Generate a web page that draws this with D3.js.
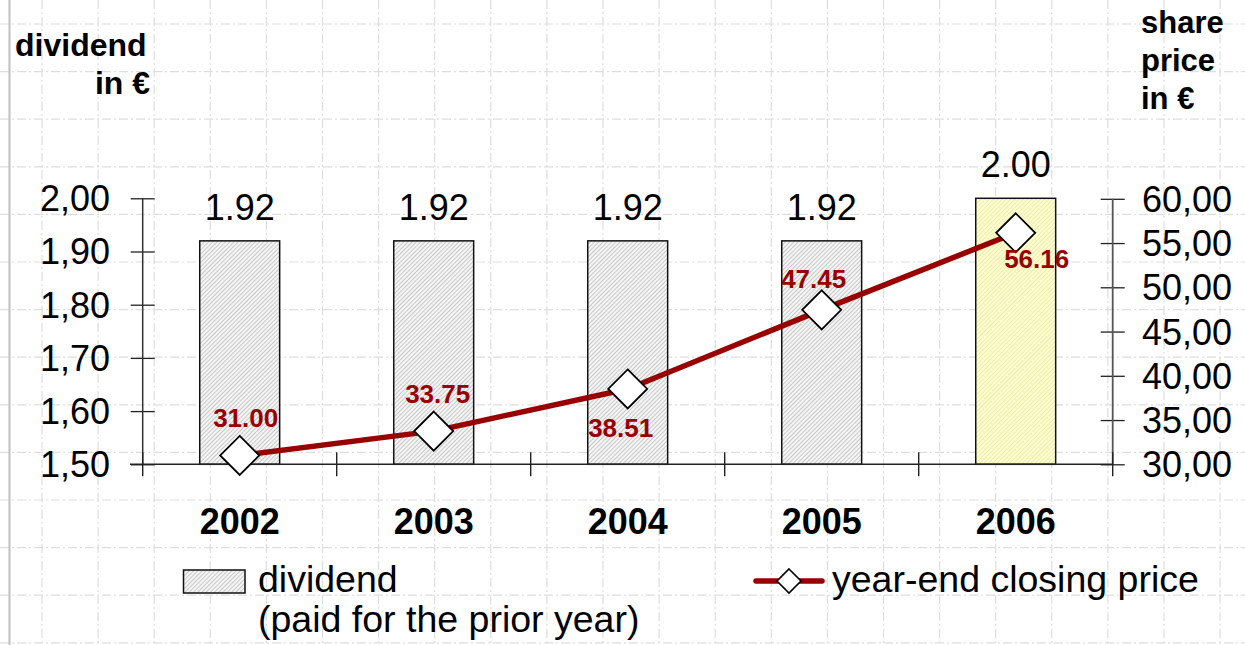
<!DOCTYPE html>
<html>
<head>
<meta charset="utf-8">
<script src="https://cdn.jsdelivr.net/npm/d3@7"></script>
<style>
  html, body { margin: 0; padding: 0; background: #ffffff; }
  svg { display: block; font-family: "Liberation Sans", Arial, sans-serif; }
</style>
</head>
<body>
<svg id="chart" width="1245" height="645"></svg>
<script>
// ---- data ----
const years = ["2002", "2003", "2004", "2005", "2006"];
const dividends = [1.92, 1.92, 1.92, 1.92, 2.00];
const sharePrices = [31.00, 33.75, 38.51, 47.45, 56.16];
const leftTicks = [1.50, 1.60, 1.70, 1.80, 1.90, 2.00];
const rightTicks = [30, 35, 40, 45, 50, 55, 60];
const highlightYear = "2006";

// label offsets for the price labels (style/placement only)
const priceLabelOffsets = [[6, -28], [4, -28], [-7, 48], [-8, -22], [21, 35]];

const svg = d3.select("#chart");
const W = 1245, H = 645;

// ---- background page grid ----
const gridG = svg.append("g");
const vStart = 42, vStep = 56.1, hStart = 24, hStep = 47.6;
for (let x = vStart; x < W; x += vStep) {
  gridG.append("line").attr("x1", x).attr("x2", x).attr("y1", 0).attr("y2", H)
    .attr("stroke", "#dedede").attr("stroke-width", 1.2).attr("stroke-dasharray", "9,3,2,3");
}
for (let y = hStart; y < H; y += hStep) {
  gridG.append("line").attr("x1", 0).attr("x2", W).attr("y1", y).attr("y2", y)
    .attr("stroke", "#dedede").attr("stroke-width", 1.2).attr("stroke-dasharray", "9,3,2,3");
}
gridG.append("line").attr("x1", 9.5).attr("x2", 9.5).attr("y1", 0).attr("y2", H)
  .attr("stroke", "#c4c4c4").attr("stroke-width", 2.2);

// ---- patterns ----
const defs = svg.append("defs");
function hatch(id, bg, fg) {
  const p = defs.append("pattern").attr("id", id).attr("patternUnits", "userSpaceOnUse")
    .attr("width", 3).attr("height", 3).attr("patternTransform", "rotate(45)");
  p.append("rect").attr("width", 3).attr("height", 3).attr("fill", bg);
  p.append("line").attr("x1", 0.5).attr("x2", 0.5).attr("y1", 0).attr("y2", 3)
    .attr("stroke", fg).attr("stroke-width", 0.8);
}
hatch("hatchGray", "#f5f5f5", "#bdbdbd");
hatch("hatchYellow", "#ffffcc", "#e6e6ae");

// ---- scales ----
const x = d3.scaleBand().domain(years).range([142.7, 1112.7]).paddingInner(0.588).paddingOuter(0.294);
const yL = d3.scaleLinear().domain([1.5, 2.0]).range([464.3, 198.3]);
const yR = d3.scaleLinear().domain([30, 60]).range([464.3, 198.8]);
const step = x.step();
const fmtComma = d3.format(".2f");

// ---- bars ----
svg.append("g").selectAll("rect").data(years).join("rect")
  .attr("x", d => x(d))
  .attr("width", x.bandwidth())
  .attr("y", (d, i) => yL(dividends[i]))
  .attr("height", (d, i) => yL(1.5) - yL(dividends[i]))
  .attr("fill", d => d === highlightYear ? "url(#hatchYellow)" : "url(#hatchGray)")
  .attr("stroke", "#111").attr("stroke-width", 1.5);

// dividend value labels
svg.append("g").selectAll("text").data(years).join("text")
  .attr("x", d => x(d) + x.bandwidth() / 2)
  .attr("y", (d, i) => yL(dividends[i]) - 21)
  .attr("text-anchor", "middle")
  .attr("font-size", 36).attr("fill", "#000")
  .text((d, i) => fmtComma(dividends[i]));

// ---- axes ----
const axisColor = "#222";
const axL = svg.append("g").attr("transform", "translate(142.7,0)")
  .call(d3.axisLeft(yL).tickValues(leftTicks).tickSize(12).tickFormat(""));
axL.select(".domain").remove();
axL.selectAll(".tick line").attr("x1", -12).attr("x2", 12).attr("stroke", axisColor).attr("stroke-width", 1.3);
axL.append("line").attr("x1", 0).attr("x2", 0).attr("y1", yL(2.0)).attr("y2", yL(1.5))
  .attr("stroke", "#333").attr("stroke-width", 1.5);
svg.append("g").selectAll("text").data(leftTicks).join("text")
  .attr("x", 110).attr("y", d => yL(d))
  .attr("dy", "0.36em").attr("text-anchor", "end")
  .attr("font-size", 36).attr("fill", "#000")
  .text(d => fmtComma(d).replace(".", ","));

const axR = svg.append("g").attr("transform", "translate(1112.7,0)")
  .call(d3.axisRight(yR).tickValues(rightTicks).tickSize(12).tickFormat(""));
axR.select(".domain").remove();
axR.selectAll(".tick line").attr("x1", -12).attr("x2", 12).attr("stroke", axisColor).attr("stroke-width", 1.3);
axR.append("line").attr("x1", 0).attr("x2", 0).attr("y1", yR(60)).attr("y2", yR(30))
  .attr("stroke", "#555").attr("stroke-width", 1.8);
svg.append("g").selectAll("text").data(rightTicks).join("text")
  .attr("x", 1142).attr("y", d => yR(d))
  .attr("dy", "0.36em").attr("text-anchor", "start")
  .attr("font-size", 36).attr("fill", "#000")
  .text(d => fmtComma(d).replace(".", ","));

// x axis
const xAxisY = yL(1.5);
svg.append("line").attr("x1", 130).attr("x2", 1112.7).attr("y1", xAxisY).attr("y2", xAxisY)
  .attr("stroke", axisColor).attr("stroke-width", 1.4);
const boundaries = years.map(d => x(d) - x.paddingOuter() * step).concat([x.range()[1]]);
svg.append("g").selectAll("line").data(boundaries).join("line")
  .attr("x1", d => d).attr("x2", d => d)
  .attr("y1", xAxisY - 12).attr("y2", xAxisY + 12)
  .attr("stroke", axisColor).attr("stroke-width", 1.4);
svg.append("g").selectAll("text").data(years).join("text")
  .attr("x", d => x(d) + x.bandwidth() / 2)
  .attr("y", 534)
  .attr("text-anchor", "middle")
  .attr("font-size", 36).attr("font-weight", "bold").attr("fill", "#000")
  .text(d => d);

// ---- price line ----
const lineColor = "#990000";
const pts = years.map((d, i) => [x(d) + x.bandwidth() / 2, yR(sharePrices[i])]);
svg.append("path").attr("d", d3.line()(pts))
  .attr("fill", "none").attr("stroke", lineColor).attr("stroke-width", 5.5)
  .attr("stroke-linejoin", "round");

const diamond = r => `M0,${-r}L${r},0L0,${r}L${-r},0Z`;
svg.append("g").selectAll("path").data(pts).join("path")
  .attr("transform", d => `translate(${d[0]},${d[1]})`)
  .attr("d", diamond(19.5))
  .attr("fill", "#fff").attr("stroke", "#000").attr("stroke-width", 1.8);

svg.append("g").selectAll("text").data(pts).join("text")
  .attr("x", (d, i) => d[0] + priceLabelOffsets[i][0])
  .attr("y", (d, i) => d[1] + priceLabelOffsets[i][1])
  .attr("text-anchor", "middle")
  .attr("font-size", 26).attr("font-weight", "bold").attr("fill", lineColor)
  .text((d, i) => fmtComma(sharePrices[i]));

// ---- axis titles ----
svg.append("text").attr("x", 15).attr("y", 56).attr("font-size", 32).attr("font-weight", "bold").text("dividend");
svg.append("text").attr("x", 150).attr("y", 94).attr("text-anchor", "end").attr("font-size", 32).attr("font-weight", "bold").text("in €");
["share", "price", "in €"].forEach((t, i) => {
  svg.append("text").attr("x", 1141).attr("y", 33 + i * 38).attr("font-size", 31).attr("font-weight", "bold").text(t);
});

// ---- legend ----
svg.append("rect").attr("x", 183.5).attr("y", 570).attr("width", 61.5).attr("height", 23)
  .attr("fill", "url(#hatchGray)").attr("stroke", "#111").attr("stroke-width", 1.5);
svg.append("text").attr("x", 258).attr("y", 592).attr("font-size", 37.5).text("dividend");
svg.append("text").attr("x", 258).attr("y", 632).attr("font-size", 37.5).text("(paid for the prior year)");

svg.append("line").attr("x1", 756).attr("x2", 822).attr("y1", 581).attr("y2", 581)
  .attr("stroke", lineColor).attr("stroke-width", 5.5).attr("stroke-linecap", "round");
svg.append("path").attr("transform", "translate(789,581)").attr("d", diamond(12))
  .attr("fill", "#fff").attr("stroke", "#000").attr("stroke-width", 1.6);
svg.append("text").attr("x", 832).attr("y", 592).attr("font-size", 37.5).text("year-end closing price");
</script>
</body>
</html>
